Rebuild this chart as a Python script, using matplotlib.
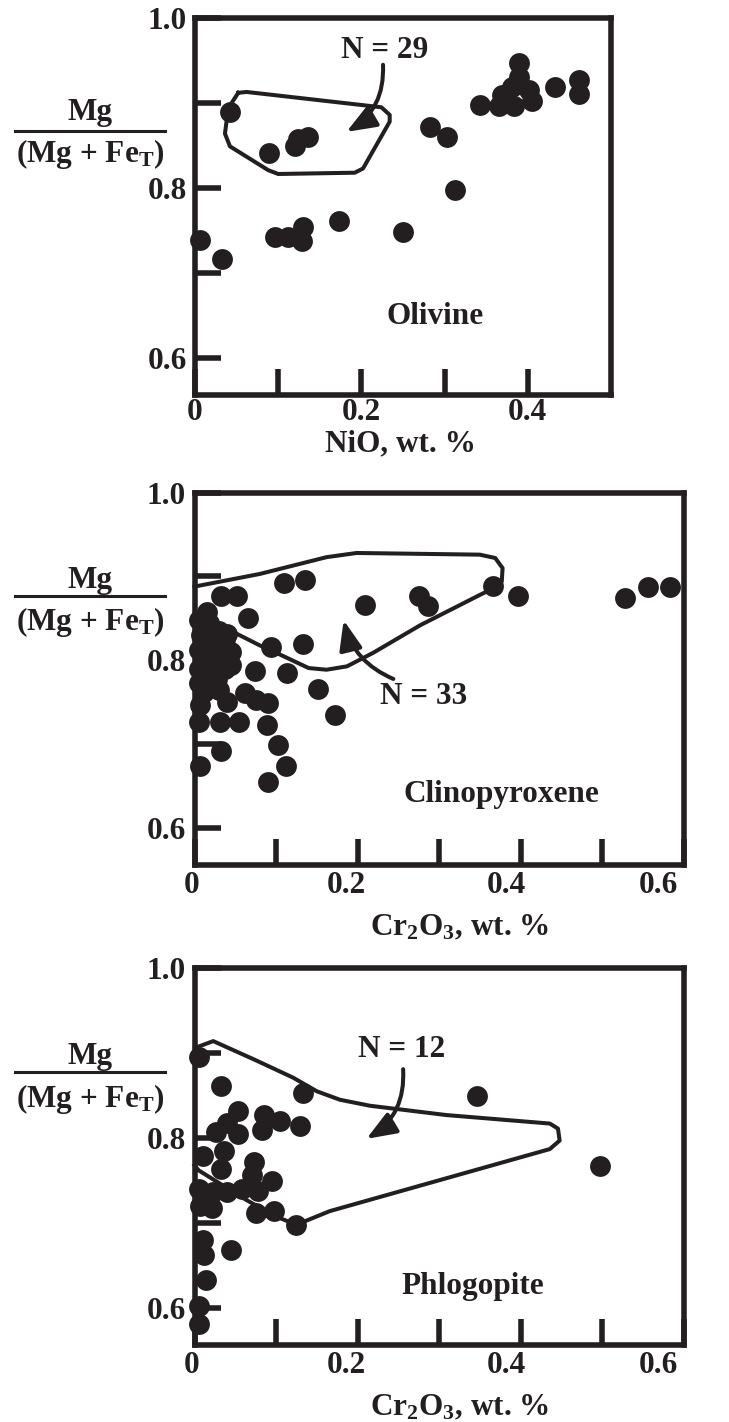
import matplotlib
matplotlib.use("Agg")
import matplotlib.pyplot as plt
from matplotlib.lines import Line2D
from matplotlib.ticker import FixedLocator
from matplotlib.transforms import ScaledTranslation

plt.rcParams['font.family'] = ['Liberation Serif', 'DejaVu Serif']
plt.rcParams['font.weight'] = 'bold'
plt.rcParams['mathtext.fontset'] = 'custom'
plt.rcParams['mathtext.rm'] = 'Liberation Serif:bold'
plt.rcParams['mathtext.bf'] = 'Liberation Serif:bold'
plt.rcParams['mathtext.it'] = 'Liberation Serif:bold'
plt.rcParams['mathtext.default'] = 'rm'

INK = '#231f20'
FS = 22.5

# olivine: NiO wt.% vs Mg/(Mg+FeT)
olv_x = [0.042, 0.089, 0.120, 0.124, 0.136, 0.282, 0.303, 0.3125, 0.006, 0.032,
         0.096, 0.112, 0.130, 0.129, 0.173, 0.250, 0.390, 0.389, 0.381, 0.401,
         0.369, 0.343, 0.365, 0.383, 0.405, 0.433, 0.461, 0.461]
olv_y = [0.890, 0.841, 0.849, 0.858, 0.860, 0.872, 0.860, 0.798, 0.739, 0.717,
         0.742, 0.742, 0.754, 0.738, 0.761, 0.748, 0.947, 0.931, 0.919, 0.915,
         0.909, 0.898, 0.896, 0.896, 0.902, 0.919, 0.927, 0.911]
olv_field_x = [0.052, 0.062, 0.224, 0.234, 0.234, 0.202, 0.192, 0.100, 0.088, 0.042, 0.036, 0.040, 0.052]
olv_field_y = [0.912, 0.913, 0.895, 0.886, 0.878, 0.823, 0.818, 0.8165, 0.821, 0.849, 0.864, 0.894, 0.912]

# clinopyroxene: Cr2O3 wt.% vs Mg/(Mg+FeT)
cpx_x = [0.110, 0.136, 0.033, 0.052, 0.066, 0.209, 0.275, 0.287, 0.366, 0.397,
         0.528, 0.557, 0.583, 0.0935, 0.133, 0.074, 0.114, 0.151, 0.173, 0.0395,
         0.062, 0.076, 0.0905, 0.005, 0.031, 0.054, 0.089, 0.103, 0.033, 0.112,
         0.007, 0.0905, 0.007,
         0.006, 0.018, 0.030, 0.037, 0.008, 0.020, 0.006, 0.025, 0.038, 0.012,
         0.006, 0.022, 0.037, 0.010, 0.028, 0.006, 0.020,
         0.045, 0.015, 0.030, 0.045, 0.015, 0.030, 0.040, 0.012]
cpx_y = [0.892, 0.896, 0.877, 0.877, 0.850, 0.866, 0.877, 0.865, 0.889, 0.877,
         0.874, 0.887, 0.887, 0.816, 0.820, 0.787, 0.785, 0.766, 0.735, 0.751,
         0.761, 0.753, 0.749, 0.727, 0.727, 0.727, 0.723, 0.699, 0.692, 0.674,
         0.674, 0.655, 0.747,
         0.848, 0.845, 0.835, 0.826, 0.830, 0.822, 0.812, 0.808, 0.800, 0.800,
         0.790, 0.790, 0.790, 0.780, 0.778, 0.773, 0.772,
         0.810, 0.858, 0.765, 0.795, 0.815, 0.800, 0.832, 0.762]
cpx_field_x = [0.0, 0.080, 0.162, 0.199, 0.350, 0.369, 0.378, 0.377, 0.367, 0.350,
               0.277, 0.219, 0.187, 0.162, 0.140, 0.105, 0.080, 0.027, 0.0]
cpx_field_y = [0.888, 0.903, 0.923, 0.928, 0.926, 0.922, 0.910, 0.894, 0.886, 0.878,
               0.842, 0.809, 0.793, 0.789, 0.791, 0.807, 0.818, 0.844, 0.856]

# phlogopite: Cr2O3 wt.% vs Mg/(Mg+FeT)
phl_x = [0.005, 0.033, 0.133, 0.347, 0.497, 0.130, 0.105, 0.085, 0.083, 0.053,
         0.040, 0.053, 0.026, 0.036, 0.011, 0.033, 0.073, 0.095, 0.070, 0.058,
         0.005, 0.023, 0.040, 0.078, 0.007, 0.021, 0.075, 0.097, 0.124, 0.010,
         0.012, 0.045, 0.014, 0.005, 0.006]
phl_y = [0.895, 0.861, 0.853, 0.850, 0.767, 0.814, 0.820, 0.827, 0.810, 0.832,
         0.818, 0.805, 0.807, 0.785, 0.779, 0.763, 0.772, 0.750, 0.756, 0.740,
         0.740, 0.736, 0.736, 0.738, 0.720, 0.718, 0.712, 0.714, 0.698, 0.680,
         0.662, 0.668, 0.633, 0.602, 0.581]
phl_field_x = [0.0006, 0.023, 0.074, 0.121, 0.150, 0.1785, 0.215, 0.309, 0.436, 0.446,
               0.448, 0.436, 0.166, 0.125, 0.099, 0.062, 0.005, 0.0]
phl_field_y = [0.906, 0.914, 0.892, 0.871, 0.855, 0.845, 0.838, 0.827, 0.817, 0.811,
               0.797, 0.787, 0.714, 0.698, 0.708, 0.728, 0.762, 0.768]

W, H = 729, 1422
fig = plt.figure(figsize=(W / 100, H / 100), dpi=100)


def px_axes(left, top, right, bottom):
    return fig.add_axes([left / W, 1 - bottom / H, (right - left) / W, (bottom - top) / H])


def style(ax, xmax, major_x, minor_x, xpad, shifts=None):
    ax.set_xlim(0, xmax)
    ax.set_ylim(0.5565, 1.0)
    for s in ax.spines.values():
        s.set_linewidth(4.0)
        s.set_color(INK)
    ax.xaxis.set_major_locator(FixedLocator(major_x))
    ax.xaxis.set_minor_locator(FixedLocator(minor_x))
    ax.yaxis.set_major_locator(FixedLocator([0.6, 0.8, 1.0]))
    ax.yaxis.set_minor_locator(FixedLocator([0.7, 0.9]))
    ax.set_xticklabels(['0' if v == 0 else f'{v:.1f}' for v in major_x])
    ax.set_yticklabels(['0.6', '0.8', '1.0'])
    ax.tick_params(which='both', direction='in', length=19, width=4.0, color=INK,
                   top=False, right=False, labelsize=FS, labelcolor=INK)
    ax.tick_params(axis='x', which='major', pad=xpad)
    ax.tick_params(axis='y', which='major', pad=6)
    if shifts:
        for lab, dx in zip(ax.get_xticklabels(), shifts):
            lab.set_transform(lab.get_transform() + ScaledTranslation(dx / 100, 0, fig.dpi_scale_trans))


def ylabel(mg_base, line_y, den_base):
    fig.text(90 / W, 1 - mg_base / H, 'Mg', ha='center', va='baseline', fontsize=FS, color=INK)
    fig.add_artist(Line2D([15 / W, 165 / W], [1 - line_y / H] * 2, transform=fig.transFigure,
                          lw=2.2, color=INK))
    fig.text(90 / W, 1 - den_base / H, r'(Mg + Fe$_{T}$)', ha='center', va='baseline',
             fontsize=FS, color=INK)


def panel(ax, x, y, fx, fy):
    ax.plot(fx, fy, color=INK, lw=2.9, solid_joinstyle='round', clip_on=False, zorder=2)
    ax.plot(x, y, 'o', ms=15, mew=0, color=INK, clip_on=False, zorder=3)


def arrow(ax, tail, tip, rad):
    ax.annotate('', xy=tip, xytext=tail,
                arrowprops=dict(arrowstyle='-|>,head_length=0.9,head_width=0.35',
                                connectionstyle=f'arc3,rad={rad}', lw=2.9, color=INK,
                                shrinkA=0, shrinkB=0, mutation_scale=20))


# Olivine
ax1 = px_axes(195, 18, 611, 395)
style(ax1, 0.5, [0, 0.2, 0.4], [0.1, 0.3], 2)
panel(ax1, olv_x, olv_y, olv_field_x, olv_field_y)
ax1.text(0.228, 0.962, 'N = 29', ha='center', va='center', fontsize=FS, color=INK)
arrow(ax1, (0.226, 0.945), (0.182, 0.866), -0.3)
ax1.text(0.288, 0.649, 'Olivine', ha='center', va='center', fontsize=FS, color=INK)
ax1.text(0.495, -56 / 377, 'NiO, wt. %', transform=ax1.transAxes, ha='center',
         va='baseline', fontsize=FS, color=INK)
ylabel(120, 131, 162)

# Clinopyroxene
ax2 = px_axes(194.5, 492.5, 683.5, 865)
style(ax2, 0.6, [0, 0.2, 0.4, 0.6], [0.1, 0.3, 0.5], 4, [-3, -11, -14, -25])
panel(ax2, cpx_x, cpx_y, cpx_field_x, cpx_field_y)
ax2.text(0.281, 0.757, 'N = 33', ha='center', va='center', fontsize=FS, color=INK)
arrow(ax2, (0.244, 0.778), (0.183, 0.848), -0.25)
ax2.text(0.377, 0.640, 'Clinopyroxene', ha='center', va='center', fontsize=FS, color=INK)
ax2.text(0.543, -70 / 372.5, r'Cr$_{2}$O$_{3}$, wt. %', transform=ax2.transAxes,
         ha='center', va='baseline', fontsize=FS, color=INK)
ylabel(588, 596, 630)

# Phlogopite
ax3 = px_axes(194.5, 968, 683.5, 1345)
style(ax3, 0.6, [0, 0.2, 0.4, 0.6], [0.1, 0.3, 0.5], 4, [-3, -11, -14, -25])
panel(ax3, phl_x, phl_y, phl_field_x, phl_field_y)
ax3.text(0.254, 0.904, 'N = 12', ha='center', va='center', fontsize=FS, color=INK)
arrow(ax3, (0.256, 0.881), (0.211, 0.799), -0.3)
ax3.text(0.342, 0.625, 'Phlogopite', ha='center', va='center', fontsize=FS, color=INK)
ax3.text(0.543, -70 / 377, r'Cr$_{2}$O$_{3}$, wt. %', transform=ax3.transAxes,
         ha='center', va='baseline', fontsize=FS, color=INK)
ylabel(1064, 1072, 1107)

fig.savefig('out.png', dpi=100)
